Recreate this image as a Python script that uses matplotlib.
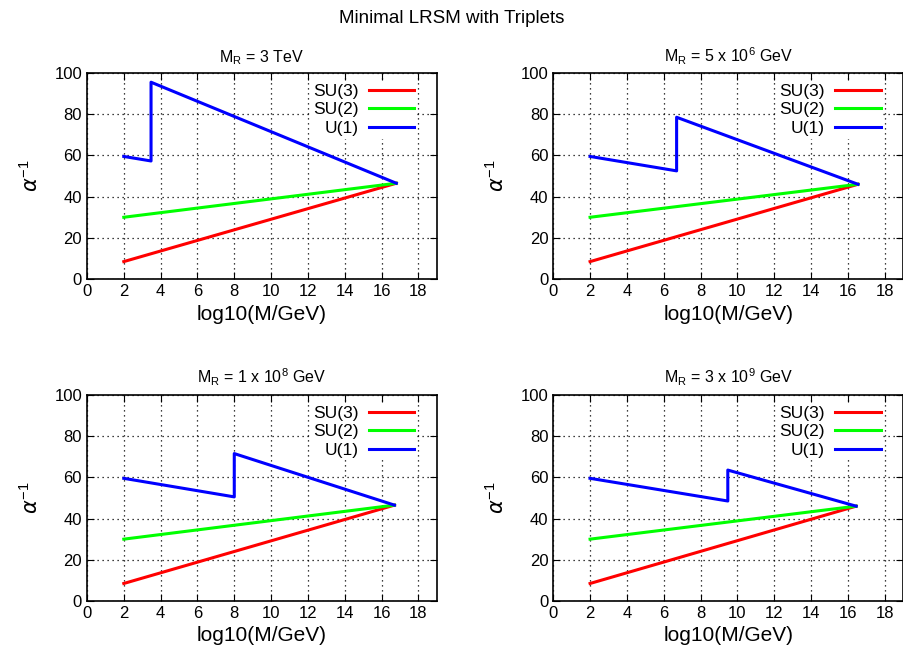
import matplotlib.pyplot as plt

plt.rcParams['font.family'] = ['Liberation Sans', 'DejaVu Sans']

# panel titles
titles = [r'$\mathregular{M_R}$ = 3 TeV',
          r'$\mathregular{M_R}$ = 5 x 10$^{\mathregular{6}}$ GeV',
          r'$\mathregular{M_R}$ = 1 x 10$^{\mathregular{8}}$ GeV',
          r'$\mathregular{M_R}$ = 3 x 10$^{\mathregular{9}}$ GeV']

# log10(M_R / GeV) where U(1) jumps, and unification point
mr_log = [3.48, 6.7, 8.0, 9.48]
gut_log = [16.8, 16.55, 16.7, 16.45]
gut_val = [46.5, 46.0, 46.5, 46.0]

# start values at log10(M/GeV) = 2
x_start = 2.0
su3_start = [8.5, 8.5, 8.5, 8.5]
su2_start = [30.0, 30.0, 30.0, 30.0]
u1_start = [59.5, 59.5, 59.5, 59.5]
u1_below = [57.3, 52.5, 50.5, 48.5]   # just below M_R
u1_above = [95.5, 78.5, 71.5, 63.5]   # just above M_R

fig = plt.figure(figsize=(9.04, 6.63), dpi=100)
fig.text(0.5, 0.972, 'Minimal LRSM with Triplets', ha='center', va='center', fontsize=13.5)

positions = [[0.0962, 0.579, 0.387, 0.311],
             [0.612, 0.579, 0.387, 0.311],
             [0.0962, 0.0935, 0.387, 0.311],
             [0.612, 0.0935, 0.387, 0.311]]

for i in range(4):
    ax = fig.add_axes(positions[i])
    ax.plot([x_start, gut_log[i]], [su3_start[i], gut_val[i]], color='#ff0000', lw=2.2, label='SU(3)')
    ax.plot([x_start, gut_log[i]], [su2_start[i], gut_val[i]], color='#00ff00', lw=2.2, label='SU(2)')
    ax.plot([x_start, mr_log[i], mr_log[i], gut_log[i]],
            [u1_start[i], u1_below[i], u1_above[i], gut_val[i]], color='#0000ff', lw=2.2, label='U(1)')
    ax.set_xlim(0, 19)
    ax.set_ylim(0, 100)
    ax.set_xticks(range(0, 19, 2))
    ax.set_yticks(range(0, 101, 20))
    ax.grid(True, color='black', linestyle=(0, (1, 3)), linewidth=0.9)
    ax.set_axisbelow(True)
    ax.tick_params(direction='in', top=True, right=True, labelsize=12, length=5, width=0.8)
    for s in ax.spines.values():
        s.set_linewidth(1.2)
    ax.set_xlabel('log10(M/GeV)', fontsize=15, labelpad=4)
    ax.set_ylabel(r'$\alpha^{\mathregular{-1}}$', fontsize=15, labelpad=9)
    ax.set_title(titles[i], fontsize=11.5, pad=8)
    leg = ax.legend(loc='upper right', bbox_to_anchor=(1 - 20 / 350, 1 - 8 / 206),
                    markerfirst=False, fontsize=12.5, frameon=True,
                    handlelength=2.6, handletextpad=0.6, labelspacing=0.2,
                    borderaxespad=0, borderpad=0.15, fancybox=False)
    leg.get_frame().set_facecolor('white')
    leg.get_frame().set_edgecolor('none')
    leg.get_frame().set_alpha(1)
    for t in leg.get_texts():
        t.set_ha('right')

fig.savefig('out.png', dpi=100)
